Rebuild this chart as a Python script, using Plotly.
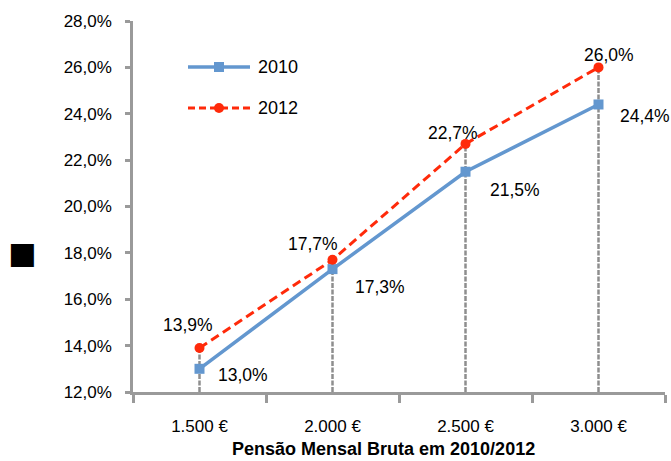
import plotly.graph_objects as go

categories = ["1.500 €", "2.000 €", "2.500 €", "3.000 €"]
y2010 = [13.0, 17.3, 21.5, 24.4]
y2012 = [13.9, 17.7, 22.7, 26.0]
series_names = ["2010", "2012"]
x_title = "Pensão Mensal Bruta em 2010/2012"
y_title = "■"

# label offsets (pixels, style only)
off2010 = [(16, -6), (20, -18), (22, -18), (19, -12)]
off2012 = [(-12, 23), (-20, 16), (-13, 11), (10, 12)]

FONT = "Liberation Sans, Arial, sans-serif"
BLUE = "#6397CF"
RED = "#FF2A0A"
GREY = "#9A9A9A"

W, H = 671, 461
ML, MR, MT, MB = 133, 6, 21, 69
PW, PH = W - ML - MR, H - MT - MB


def px(fx):
    return (fx - ML) / PW


def py(fy):
    return (H - MB - fy) / PH


def fmt(v):
    return f"{v:.1f}".replace(".", ",") + "%"


fig = go.Figure()

# drop lines from highest point of each category to the axis floor
dx, dy = [], []
for c, a, b in zip(categories, y2010, y2012):
    dx += [c, c, None]
    dy += [12, max(a, b), None]
fig.add_trace(go.Scatter(x=dx, y=dy, mode="lines", showlegend=False, hoverinfo="skip",
                         line=dict(color="#8E8E8E", width=2.5, dash="5px,1.5px")))

fig.add_trace(go.Scatter(x=categories, y=y2010, name=series_names[0], mode="lines+markers",
                         showlegend=False,
                         line=dict(color=BLUE, width=3.5),
                         marker=dict(symbol="square", size=10, color=BLUE)))
fig.add_trace(go.Scatter(x=categories, y=y2012, name=series_names[1], mode="lines+markers",
                         showlegend=False,
                         line=dict(color=RED, width=3, dash="9px,5px"),
                         marker=dict(symbol="circle", size=10, color=RED)))

for c, v, (ox, oy) in zip(categories, y2010, off2010):
    fig.add_annotation(x=c, y=v, text=fmt(v), showarrow=False, xanchor="left", yanchor="middle",
                       xshift=ox, yshift=oy, font=dict(family=FONT, size=17.5, color="black"))
for c, v, (ox, oy) in zip(categories, y2012, off2012):
    fig.add_annotation(x=c, y=v, text=fmt(v), showarrow=False, xanchor="center", yanchor="middle",
                       xshift=ox, yshift=oy, font=dict(family=FONT, size=17.5, color="black"))

# custom legend
leg = [(series_names[0], BLUE, "solid", 3.5, "rect", 67),
       (series_names[1], RED, "7px,4px", 3, "circle", 108)]
for name, col, dash, w, shp, fy in leg:
    fig.add_shape(type="line", xref="paper", yref="paper", x0=px(188), x1=px(250), y0=py(fy), y1=py(fy),
                  line=dict(color=col, width=w, dash=dash))
    fig.add_shape(type=shp, xref="paper", yref="paper", x0=px(214), x1=px(224), y0=py(fy - 5), y1=py(fy + 5),
                  fillcolor=col, line=dict(color=col, width=0))
    fig.add_annotation(xref="paper", yref="paper", x=px(256), y=py(fy), text=name, showarrow=False,
                       xanchor="left", yanchor="middle", font=dict(family=FONT, size=18, color="black"))

fig.add_annotation(xref="paper", yref="paper", x=px(22), y=py(252), text=y_title, showarrow=False,
                   xanchor="center", yanchor="middle", font=dict(family="DejaVu Sans", size=30, color="black"))
fig.add_annotation(xref="paper", yref="paper", x=px(383), y=py(449), text="<b>" + x_title + "</b>",
                   showarrow=False, xanchor="center", yanchor="middle",
                   font=dict(family=FONT, size=18, color="black"))

fig.update_layout(
    width=W, height=H,
    margin=dict(l=ML, r=MR, t=MT, b=MB, autoexpand=False),
    paper_bgcolor="white", plot_bgcolor="white",
    separators=",.",
    showlegend=False,
    font=dict(family=FONT, size=17, color="black"),
    xaxis=dict(type="category", range=[-0.5, 3.5], showgrid=False, showline=True, linecolor=GREY,
               linewidth=2.5, ticks="outside", tickson="boundaries", ticklen=8, tickcolor=GREY,
               tickwidth=2.5, zeroline=False, ticklabelstandoff=17, automargin=False,
               tickfont=dict(family=FONT, size=17)),
    yaxis=dict(range=[12, 28], dtick=2, tickformat=".1f", ticksuffix="%", showgrid=False,
               showline=True, linecolor=GREY, linewidth=2.5, ticks="outside", ticklen=5,
               tickcolor=GREY, tickwidth=2.5, zeroline=False, ticklabelstandoff=10, automargin=False,
               tickfont=dict(family=FONT, size=17)),
)

fig.write_html("out.html", config={"displayModeBar": False},
               post_script="document.body.style.margin='0';document.body.style.overflow='hidden';")
